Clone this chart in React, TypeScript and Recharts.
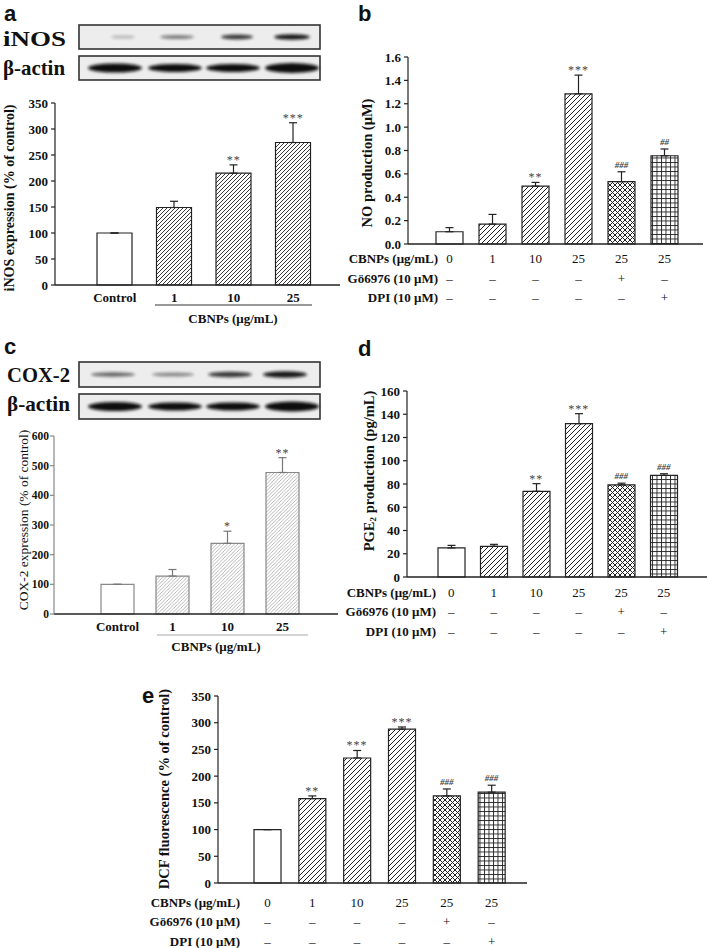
import React from 'react';
import { ComposedChart, Bar, Line, XAxis, YAxis, ErrorBar, LabelList, Cell } from 'recharts';

const serif = '"Liberation Serif", "Times New Roman", serif';
const sans = '"Liberation Sans", Arial, sans-serif';

// x categories
const expCats = ['Control', '1', '10', '25'];
const doseCats = ['0', '1', '10', '25', '25', '25'];
const goRow = ['–', '–', '–', '–', '+', '–'];
const dpiRow = ['–', '–', '–', '–', '–', '+'];

// a: iNOS expression (% of control)
const aValues = [100, 149, 215, 274];
const aErrors = [0, 12, 16, 38];
const aSig = ['', '', '**', '***'];

// b: NO production (uM)
const bValues = [0.105, 0.17, 0.495, 1.285, 0.533, 0.755];
const bErrors = [0.035, 0.083, 0.032, 0.16, 0.085, 0.058];
const bSig = ['', '', '**', '***', '###', '##'];

// c: COX-2 expression (% of control)
const cValues = [100, 128, 238, 477];
const cErrors = [0, 22, 41, 50];
const cSig = ['', '', '*', '**'];

// d: PGE2 production (pg/mL)
const dValues = [25, 26.4, 73.7, 131.9, 79.2, 87.4];
const dErrors = [2.2, 1.7, 6.6, 8.6, 1.5, 1.4];
const dSig = ['', '', '**', '***', '###', '###'];

// e: DCF fluorescence (% of control)
const eValues = [100, 158, 234, 288, 163, 170];
const eErrors = [0, 5, 14, 4, 13, 13];
const eSig = ['', '**', '***', '***', '###', '###'];

// western blot band intensities (per lane)
const iNOSBands = [0.25, 0.5, 0.8, 0.95];
const cox2Bands = [0.6, 0.45, 0.8, 0.95];
const actinBands = [1, 1, 1, 1];

const build = (cats: string[], values: number[], errors: number[], sig: string[]) =>
  cats.map((cat, i) => ({
    cat,
    value: values[i],
    errRange: [0, errors[i]],
    top: values[i] + errors[i],
    sig: sig[i],
  }));

const expFills = ['#fff', 'url(#diagA)', 'url(#diagA)', 'url(#diagA)'];
const greyFills = ['#fff', 'url(#diagC)', 'url(#diagC)', 'url(#diagC)'];
const tableFills = ['#fff', 'url(#diagB)', 'url(#diagB)', 'url(#diagB)', 'url(#cross)', 'url(#grid)'];

const SigLabel = (props: any) => {
  const { x, y, value } = props;
  if (!value) return null;
  const hash = String(value).startsWith('#');
  return (
    <text
      x={x}
      y={y - (hash ? 4 : 1)}
      textAnchor="middle"
      fontFamily={serif}
      fontSize={hash ? 9 : 12}
      fontStyle={hash ? 'italic' : 'normal'}
      fontWeight={hash ? 700 : 400}
      letterSpacing={hash ? 0 : 1}
      fill="#444"
    >
      {value}
    </text>
  );
};

const ExpTick = (props: any) => {
  const { x, y, payload } = props;
  return (
    <text x={x} y={y + 17} textAnchor="middle" fontFamily={serif} fontWeight={700} fontSize={13} fill="#111">
      {payload.value}
    </text>
  );
};

const makeTableTick = (offsets: number[]) => (props: any) => {
  const { x, y, index, payload } = props;
  const rows = [payload.value, goRow[index], dpiRow[index]];
  return (
    <g>
      {rows.map((t, k) => (
        <text key={k} x={x} y={y + offsets[k]} textAnchor="middle" fontFamily={serif} fontSize={13} fill="#111">
          {t}
        </text>
      ))}
    </g>
  );
};

type PanelProps = {
  data: any[];
  x: number;
  y: number;
  w: number;
  h: number;
  margin: { top: number; right: number; bottom: number; left: number };
  xAxisH: number;
  yMax: number;
  yTicks: number[];
  fmt?: (v: number) => string;
  padding: { left: number; right: number };
  barSize: number;
  tick: any;
  fills: string[];
  barStroke: string;
  yAxisColor: string;
  errColor: string;
  yFont?: number;
  yGap?: number;
};

function Panel(p: PanelProps) {
  return (
    <div style={{ position: 'absolute', left: p.x, top: p.y }}>
      <ComposedChart width={p.w} height={p.h} data={p.data} margin={p.margin}>
        <XAxis
          dataKey="cat"
          height={p.xAxisH}
          padding={p.padding}
          axisLine={{ stroke: '#222', strokeWidth: 1.3 }}
          tickLine={false}
          tickSize={0}
          tickMargin={0}
          tick={p.tick}
          interval={0}
        />
        <YAxis
          width={40}
          domain={[0, p.yMax]}
          ticks={p.yTicks}
          tickFormatter={p.fmt}
          interval={0}
          axisLine={{ stroke: p.yAxisColor, strokeWidth: 1.2 }}
          tickLine={{ stroke: p.yAxisColor, strokeWidth: 1.2 }}
          tickSize={4}
          tickMargin={p.yGap ?? 3}
          tick={{ fontFamily: serif, fontWeight: 700, fontSize: p.yFont ?? 13, fill: '#111' }}
        />
        <Bar dataKey="value" barSize={p.barSize} isAnimationActive={false} strokeWidth={1.2}>
          {p.data.map((_, i) => (
            <Cell key={i} fill={p.fills[i]} stroke={p.barStroke} />
          ))}
          <ErrorBar dataKey="errRange" direction="y" width={4} stroke={p.errColor} strokeWidth={1.2} />
        </Bar>
        <Line dataKey="top" stroke="none" dot={false} activeDot={false} isAnimationActive={false}>
          <LabelList dataKey="sig" content={SigLabel} />
        </Line>
      </ComposedChart>
    </div>
  );
}

const Blot = ({ x, y, w, h, bands, lanes, rx, ry }: any) => (
  <g>
    <rect x={x} y={y} width={w} height={h} fill="#ededed" stroke="#333" strokeWidth={1.6} />
    {bands.map((v: number, i: number) => (
      <ellipse
        key={i}
        cx={lanes[i]}
        cy={y + h / 2}
        rx={rx[i]}
        ry={ry[i]}
        fill="#111"
        opacity={v}
        filter="url(#blur)"
      />
    ))}
  </g>
);

const Rotated = ({ x, y, size, weight, children }: any) => (
  <text
    transform={`translate(${x},${y}) rotate(-90)`}
    textAnchor="middle"
    dominantBaseline="central"
    fontFamily={serif}
    fontSize={size}
    fontWeight={weight}
    fill="#111"
  >
    {children}
  </text>
);

const RowLabels = ({ x, ys }: { x: number; ys: number[] }) => (
  <g fontFamily={serif} fontWeight={700} fontSize={13} fill="#111" textAnchor="end">
    <text x={x} y={ys[0]}>CBNPs (μg/mL)</text>
    <text x={x} y={ys[1]}>Gö6976 (10 μM)</text>
    <text x={x} y={ys[2]}>DPI (10 μM)</text>
  </g>
);

export default function App() {
  const aData = build(expCats, aValues, aErrors, aSig);
  const bData = build(doseCats, bValues, bErrors, bSig);
  const cData = build(expCats, cValues, cErrors, cSig);
  const dData = build(doseCats, dValues, dErrors, dSig);
  const eData = build(doseCats, eValues, eErrors, eSig);

  return (
    <div style={{ position: 'absolute', left: 0, top: 0, width: 709, height: 948, background: '#fff', overflow: 'hidden' }}>
      <svg width={0} height={0} style={{ position: 'absolute' }}>
        <defs>
          <pattern id="diagA" patternUnits="userSpaceOnUse" width={4} height={4}>
            <rect width={4} height={4} fill="#fff" />
            <path d="M-1,1 l2,-2 M0,4 l4,-4 M3,5 l2,-2" stroke="#222" strokeWidth={0.9} />
          </pattern>
          <pattern id="diagB" patternUnits="userSpaceOnUse" width={5} height={5}>
            <rect width={5} height={5} fill="#fff" />
            <path d="M-1,1 l2,-2 M0,5 l5,-5 M4,6 l2,-2" stroke="#222" strokeWidth={1} />
          </pattern>
          <pattern id="diagC" patternUnits="userSpaceOnUse" width={3.5} height={3.5}>
            <rect width={3.5} height={3.5} fill="#fff" />
            <path d="M-1,1 l2,-2 M0,3.5 l3.5,-3.5 M2.5,4.5 l2,-2" stroke="#999" strokeWidth={0.7} />
          </pattern>
          <pattern id="cross" patternUnits="userSpaceOnUse" width={5} height={5}>
            <rect width={5} height={5} fill="#fff" />
            <path d="M-1,1 l2,-2 M0,5 l5,-5 M4,6 l2,-2 M-1,4 l2,2 M0,0 l5,5 M4,-1 l2,2" stroke="#222" strokeWidth={1} />
          </pattern>
          <pattern id="grid" patternUnits="userSpaceOnUse" width={4.5} height={4.5}>
            <rect width={4.5} height={4.5} fill="#fff" />
            <path d="M0,0.5 H4.5 M0.5,0 V4.5" stroke="#222" strokeWidth={0.9} />
          </pattern>
          <filter id="blur" x="-50%" y="-100%" width="200%" height="300%">
            <feGaussianBlur stdDeviation="1.6" />
          </filter>
        </defs>
      </svg>

      <svg width={709} height={948} style={{ position: 'absolute', left: 0, top: 0 }}>
        {/* panel letters */}
        <g fontFamily={sans} fontWeight={700} fontSize={22} fill="#111">
          <text x={4} y={21}>a</text>
          <text x={358} y={21}>b</text>
          <text x={4} y={354}>c</text>
          <text x={358} y={356}>d</text>
          <text x={142} y={703}>e</text>
        </g>

        {/* blots a */}
        <Blot x={79} y={25} w={241} h={24} bands={iNOSBands} lanes={[123, 177, 237, 292]} rx={[12, 17, 16, 18]} ry={[1.6, 2, 2.4, 2.8]} />
        <Blot x={79} y={56} w={241} h={24} bands={actinBands} lanes={[115, 175, 233, 292]} rx={[27, 27, 27, 27]} ry={[4.5, 4, 4, 5]} />
        <g fontFamily={serif} fontWeight={700} fontSize={22} fill="#111">
          <text x={3} y={46} textLength={63} lengthAdjust="spacingAndGlyphs">iNOS</text>
          <text x={3} y={75} textLength={62} lengthAdjust="spacingAndGlyphs">β-actin</text>
          <text x={7} y={382} textLength={63} lengthAdjust="spacingAndGlyphs">COX-2</text>
          <text x={7} y={411} textLength={63} lengthAdjust="spacingAndGlyphs">β-actin</text>
        </g>

        {/* blots c */}
        <Blot x={79} y={362} w={241} h={25} bands={cox2Bands} lanes={[113, 173, 230, 285]} rx={[22, 21, 22, 22]} ry={[2.2, 2, 2.8, 3.3]} />
        <Blot x={79} y={394} w={241} h={25} bands={actinBands} lanes={[115, 175, 233, 292]} rx={[27, 27, 27, 27]} ry={[4.5, 4, 4, 5]} />

        {/* axis titles */}
        <Rotated x={9} y={198} size={14} weight={700}>iNOS expression (% of control)</Rotated>
        <Rotated x={367} y={163} size={14.5} weight={700}>NO production (μM)</Rotated>
        <Rotated x={23} y={520} size={13.5} weight={400}>COX-2 expression (% of control)</Rotated>
        <Rotated x={369} y={471} size={14.5} weight={700}>
          PGE<tspan fontSize={9} dy={4}>2</tspan><tspan dy={-4}> production (pg/mL)</tspan>
        </Rotated>
        <Rotated x={164} y={789} size={14.5} weight={700}>DCF fluorescence (% of control)</Rotated>

        {/* group brackets */}
        <line x1={155} x2={312} y1={305} y2={305} stroke="#333" strokeWidth={1} />
        <text x={233} y={323} textAnchor="middle" fontFamily={serif} fontWeight={700} fontSize={13} fill="#111">CBNPs (μg/mL)</text>
        <line x1={157} x2={308} y1={635} y2={635} stroke="#aaa" strokeWidth={1} />
        <text x={216} y={651} textAnchor="middle" fontFamily={serif} fontWeight={700} fontSize={13} fill="#111">CBNPs (μg/mL)</text>

        <RowLabels x={438} ys={[263, 283, 302]} />
        <RowLabels x={436} ys={[597, 616, 636]} />
        <RowLabels x={240} ys={[907, 926, 946]} />
      </svg>

      <Panel
        data={aData} x={0} y={95} w={350} h={235}
        margin={{ top: 8, right: 10, bottom: 15, left: 15 }} xAxisH={30}
        yMax={350} yTicks={[0, 50, 100, 150, 200, 250, 300, 350]}
        padding={{ left: 30, right: 17 }} barSize={35} tick={ExpTick}
        fills={expFills} barStroke="#222" yAxisColor="#222" errColor="#222"
      />
      <Panel
        data={bData} x={355} y={45} w={354} h={270}
        margin={{ top: 12, right: 6, bottom: 11, left: 13 }} xAxisH={60}
        yMax={1.6} yTicks={[0, 0.2, 0.4, 0.6, 0.8, 1.0, 1.2, 1.4, 1.6]} fmt={(v) => v.toFixed(1)}
        padding={{ left: 20, right: 17 }} barSize={27} tick={makeTableTick([19, 39, 58])}
        fills={tableFills} barStroke="#222" yAxisColor="#222" errColor="#222"
      />
      <Panel
        data={cData} x={0} y={425} w={350} h={225}
        margin={{ top: 11, right: 12, bottom: 6, left: 14 }} xAxisH={30}
        yMax={600} yTicks={[0, 100, 200, 300, 400, 500, 600]}
        padding={{ left: 36, right: 28 }} barSize={33} tick={ExpTick}
        fills={greyFills} barStroke="#888" yAxisColor="#888" errColor="#777"
        yFont={11.5} yGap={1}
      />
      <Panel
        data={dData} x={355} y={380} w={354} h={270}
        margin={{ top: 11, right: 2, bottom: 13, left: 12 }} xAxisH={60}
        yMax={160} yTicks={[0, 20, 40, 60, 80, 100, 120, 140, 160]}
        padding={{ left: 23, right: 22 }} barSize={27} tick={makeTableTick([20, 39, 59])}
        fills={tableFills} barStroke="#222" yAxisColor="#222" errColor="#222"
      />
      <Panel
        data={eData} x={160} y={685} w={380} h={263}
        margin={{ top: 11, right: 13, bottom: 5, left: 18 }} xAxisH={60}
        yMax={350} yTicks={[0, 50, 100, 150, 200, 250, 300, 350]}
        padding={{ left: 27, right: 13 }} barSize={27} tick={makeTableTick([24, 43, 63])}
        fills={tableFills} barStroke="#222" yAxisColor="#222" errColor="#222"
      />
    </div>
  );
}
